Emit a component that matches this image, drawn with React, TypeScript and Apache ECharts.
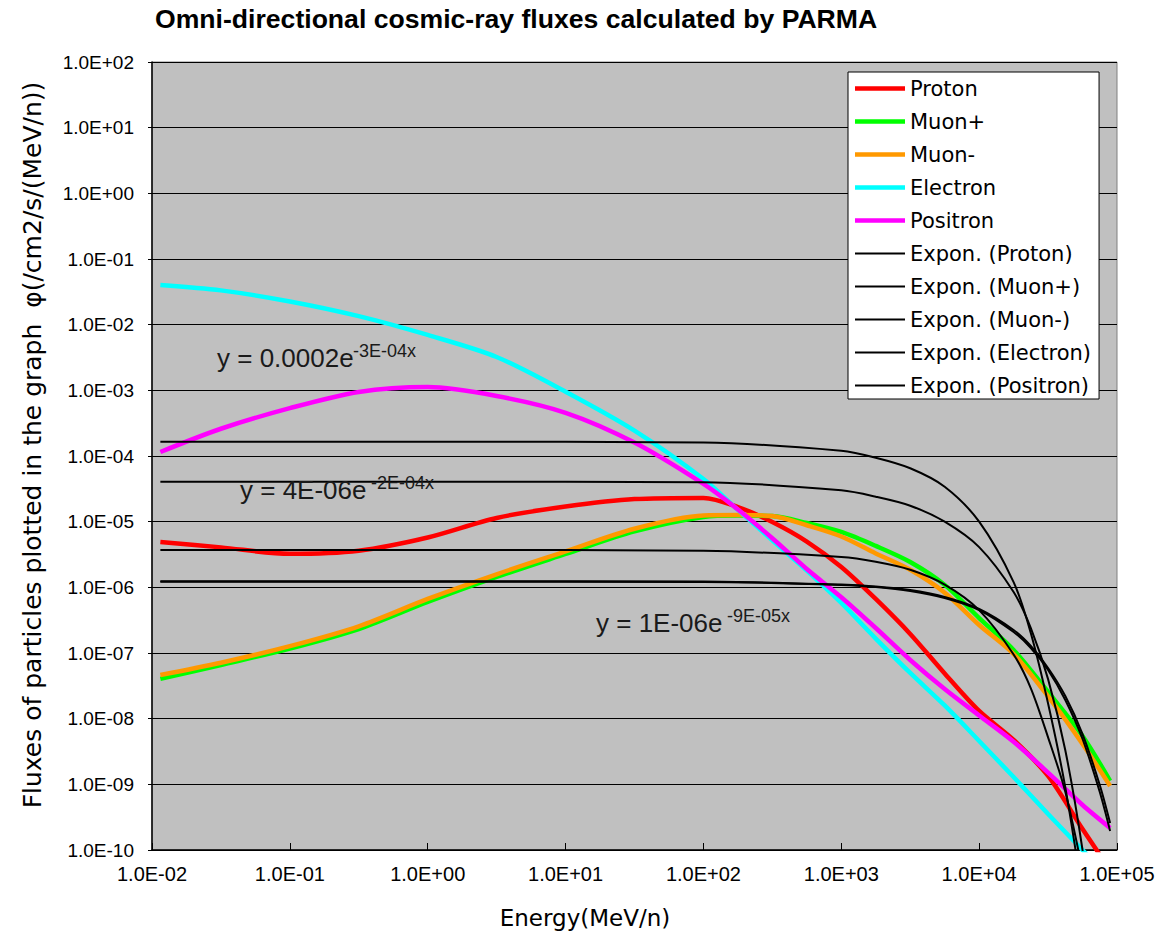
import { useEffect, useRef } from "react";
import * as echarts from "echarts";

// Energy grid (MeV/n) for the PARMA curves
const energy = [0.0115, 0.0316, 0.1, 0.316, 1, 3.16, 10, 31.6, 100, 178, 316, 562, 1000, 1778, 3162, 5623, 10000, 17783, 31623, 56234, 89125];

const proton = [4.91e-6, 4.06e-6, 3.24e-6, 3.61e-6, 5.74e-6, 1.14e-5, 1.7e-5, 2.21e-5, 2.3e-5, 1.67e-5, 9.89e-6, 4.98e-6, 2.04e-6, 6.65e-7, 1.95e-7, 4.88e-8, 1.31e-8, 4.74e-9, 1.34e-9, 2.09e-10, 4.97e-11];
const muonPlus = [4.03e-8, 6.58e-8, 1.17e-7, 2.32e-7, 5.98e-7, 1.44e-6, 3.22e-6, 7.1e-6, 1.18e-5, 1.24e-5, 1.22e-5, 9.55e-6, 6.97e-6, 4.27e-6, 2.43e-6, 1.09e-6, 3.41e-7, 1.11e-7, 2.55e-8, 5.45e-9, 1.13e-9];
const muonMinus = [4.62e-8, 7.1e-8, 1.27e-7, 2.55e-7, 6.65e-7, 1.58e-6, 3.52e-6, 7.8e-6, 1.24e-5, 1.26e-5, 1.22e-5, 8.81e-6, 5.95e-6, 3.28e-6, 1.85e-6, 8.3e-7, 2.67e-7, 9.66e-8, 2.18e-8, 4.12e-9, 9.44e-10];
const electron = [4.02e-2, 3.33e-2, 2.26e-2, 1.35e-2, 6.97e-3, 3.22e-3, 9.53e-4, 2.44e-4, 4.47e-5, 1.51e-5, 5.2e-6, 1.8e-6, 5.78e-7, 1.66e-7, 4.97e-8, 1.59e-8, 4.57e-9, 1.29e-9, 3.54e-10, 1.0e-10, 3.75e-11];
const positron = [1.15e-4, 2.6e-4, 5.35e-4, 9.46e-4, 1.12e-3, 8.2e-4, 4.55e-4, 1.6e-4, 3.75e-5, 1.53e-5, 5.6e-6, 1.9e-6, 7.06e-7, 2.4e-7, 7.83e-8, 2.83e-8, 1.12e-8, 4.45e-9, 1.51e-9, 4.85e-10, 2.17e-10];

// Exponential trend lines
const fitEnergy = [0.0115, 1, 100, 1000, 1778, 3162, 5623, 10000, 17783, 23714, 31623, 42170, 56234, 74989, 89125];
const fitProton = [3.7e-6, 3.7e-6, 3.6e-6, 2.9e-6, 2.45e-6, 1.85e-6, 1.1e-6, 4.5e-7, 9.5e-8, 2.9e-8, 5.2e-9, 7.7e-10, 4.8e-11];
const fitMuonPlus = [1.22e-6, 1.22e-6, 1.21e-6, 1.09e-6, 1.01e-6, 8.79e-7, 6.88e-7, 4.52e-7, 2.09e-7, 1.19e-7, 5.51e-8, 1.92e-8, 4.9e-9, 7.65e-10, 1.95e-10];
const fitMuonMinus = [1.24e-6, 1.24e-6, 1.23e-6, 1.1e-6, 1.03e-6, 9.12e-7, 7.13e-7, 4.68e-7, 2.24e-7, 1.28e-7, 5.92e-8, 2.21e-8, 5.83e-9, 9.75e-10, 2.57e-10];
const fitElectron = [1.65e-4, 1.65e-4, 1.6e-4, 1.2e-4, 9.4e-5, 6.5e-5, 3.4e-5, 1.0e-5, 1.2e-6, 2.0e-7, 1.7e-8, 9e-10, 2e-11];
const fitPositron = [4.06e-5, 4.06e-5, 4.0e-5, 3.0e-5, 2.4e-5, 1.75e-5, 1.0e-5, 4.1e-6, 8.5e-7, 2.4e-7, 4.0e-8, 3.3e-9, 1.0e-10, 1e-12];

const seriesNames = ["Proton", "Muon+", "Muon-", "Electron", "Positron"];
const seriesColors = ["#ff0000", "#00ff00", "#ff9900", "#00ffff", "#ff00ff"];
const fitNames = ["Expon. (Proton)", "Expon. (Muon+)", "Expon. (Muon-)", "Expon. (Electron)", "Expon. (Positron)"];

const equations = [
  { main: "y = 0.0002e", sup: "-3E-04x" },
  { main: "y = 4E-06e", sup: "-2E-04x" },
  { main: "y = 1E-06e", sup: "-9E-05x" },
];

const titleText = "Omni-directional cosmic-ray fluxes calculated by PARMA";
const xName = "Energy(MeV/n)";
const yName = "Fluxes of particles plotted in the graph  \u03c6(/cm2/s/(MeV/n))";

const FONT = "'Liberation Sans', Arial, sans-serif";
const WIDE = "'DejaVu Sans', 'Liberation Sans', sans-serif";

// legend icons: a horizontal bar inside a 50x14 box
const THICK_ICON = "path://M0,0L0.01,0L0,0.01Z M0,4.7L50,4.7L50,9.3L0,9.3Z M50,14L49.99,14L50,13.99Z";
const THIN_ICON = "path://M0,0L0.01,0L0,0.01Z M0,6L50,6L50,8L0,8Z M50,14L49.99,14L50,13.99Z";

function fmtExp(v: number) {
  const e = Math.round(Math.log10(v));
  const a = Math.abs(e);
  return "1.0E" + (e < 0 ? "-" : "+") + (a < 10 ? "0" + a : String(a));
}

function pairs(xs: number[], ys: number[]) {
  return ys.map((y, i) => [xs[i], y]);
}

export default function App() {
  const ref = useRef<HTMLDivElement>(null);
  useEffect(() => {
    document.body.style.margin = "0";
    const chart = echarts.init(ref.current!, undefined, { renderer: "svg" });
    const mainData = [proton, muonPlus, muonMinus, electron, positron];
    const fitData = [fitProton, fitMuonPlus, fitMuonMinus, fitElectron, fitPositron];

    const series: any[] = [];
    mainData.forEach((d, i) => {
      series.push({
        name: seriesNames[i],
        type: "line",
        data: pairs(energy, d),
        symbol: "none",
        smooth: 0.3,
        clip: true,
        lineStyle: { color: seriesColors[i], width: 4.5 },
        itemStyle: { color: seriesColors[i] },
        z: 2,
      });
    });
    fitData.forEach((d, i) => {
      series.push({
        name: fitNames[i],
        type: "line",
        data: pairs(fitEnergy, d),
        symbol: "none",
        smooth: 0.3,
        clip: true,
        lineStyle: { color: "#000", width: 2 },
        itemStyle: { color: "#000" },
        z: 3,
      });
    });

    const eqPos = [
      { x: 217, y: 358, sx: 353, sy: 351 },
      { x: 240, y: 490, sx: 371, sy: 483 },
      { x: 596, y: 623, sx: 727, sy: 616 },
    ];
    const graphics: any[] = [
      {
        type: "text",
        left: 155,
        top: 5,
        style: { text: titleText, font: `bold 26.6px ${FONT}`, fill: "#000" },
      },
      {
        type: "text",
        x: 585,
        y: 918,
        style: { text: xName, font: `23px ${WIDE}`, fill: "#000", textAlign: "center", textVerticalAlign: "middle" },
      },
      {
        type: "text",
        x: 32,
        y: 445,
        rotation: Math.PI / 2,
        style: { text: yName, font: `25px ${WIDE}`, fill: "#000", textAlign: "center", textVerticalAlign: "middle" },
      },
    ];
    equations.forEach((eq, i) => {
      const p = eqPos[i];
      graphics.push({
        type: "text",
        x: p.x,
        y: p.y,
        z: 10,
        style: { text: eq.main, font: `26px ${FONT}`, fill: "#1a1a1a", textAlign: "left", textVerticalAlign: "middle" },
      });
      graphics.push({
        type: "text",
        x: p.sx,
        y: p.sy,
        z: 10,
        style: { text: eq.sup, font: `18px ${FONT}`, fill: "#1a1a1a", textAlign: "left", textVerticalAlign: "middle" },
      });
    });

    const legendData = [
      ...seriesNames.map((n, i) => ({ name: n, icon: THICK_ICON, itemStyle: { color: seriesColors[i] } })),
      ...fitNames.map((n) => ({ name: n, icon: THIN_ICON, itemStyle: { color: "#000" } })),
    ];

    chart.setOption({
      animation: false,
      backgroundColor: "#ffffff",
      textStyle: { fontFamily: FONT },
      grid: {
        left: 152,
        right: 47,
        top: 62,
        bottom: 87,
        show: true,
        backgroundColor: "#c0c0c0",
        borderColor: "#808080",
        borderWidth: 1,
      },
      legend: {
        orient: "vertical",
        left: 848,
        top: 72,
        padding: [6, 8, 3, 7],
        itemWidth: 50,
        itemHeight: 14,
        itemGap: 12,
        itemTextGap: 3,
        backgroundColor: "#ffffff",
        borderColor: "#000000",
        borderWidth: 1,
        selectedMode: false,
        data: legendData,
        textStyle: { fontFamily: WIDE, fontSize: 21, color: "#000", lineHeight: 20 },
      },
      xAxis: {
        type: "log",
        logBase: 10,
        min: 0.01,
        max: 100000,
        interval: 1,
        axisLine: { show: true, onZero: false, lineStyle: { color: "#000", width: 1.5 } },
        axisTick: { show: true, inside: true, length: 7, lineStyle: { color: "#000" } },
        minorTick: { show: false },
        splitLine: { show: false },
        axisLabel: { formatter: (v: number) => fmtExp(v), fontSize: 20, color: "#000", margin: 14, fontFamily: FONT },
      },
      yAxis: {
        type: "log",
        logBase: 10,
        min: 1e-10,
        max: 100,
        interval: 1,
        axisLine: { show: true, lineStyle: { color: "#000", width: 1.5 } },
        axisTick: { show: true, inside: false, length: 4, lineStyle: { color: "#000" } },
        splitLine: { show: true, lineStyle: { color: "#000", width: 1 } },
        axisLabel: { formatter: (v: number) => fmtExp(v), fontSize: 19, color: "#000", margin: 18, fontFamily: FONT },
      },
      graphic: graphics,
      series,
    });
    return () => chart.dispose();
  }, []);
  return <div ref={ref} style={{ width: 1164, height: 937 }} />;
}
